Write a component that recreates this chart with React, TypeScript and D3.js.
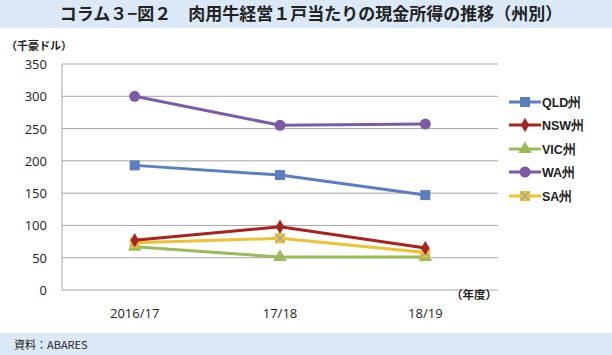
import { useEffect, useRef } from "react";
import * as d3 from "d3";

const years = ["2016/17", "17/18", "18/19"];
const yTicks = [0, 50, 100, 150, 200, 250, 300, 350];

const seriesNames = ["QLD州", "NSW州", "VIC州", "WA州", "SA州"];
const qld = [193, 178, 147];
const nsw = [77, 98, 65];
const vic = [67, 51, 51];
const wa = [300, 255, 257];
const sa = [73, 80, 58];

const colors = ["#5B7EC2", "#A8231F", "#9BBB59", "#7B5BA5", "#F0C233"];
const markers = ["square", "diamond", "triangle", "circle", "xsquare"];

const FONT = "'Noto Sans CJK JP', 'Noto Sans', sans-serif";

function drawMarker(g: any, kind: string, x: number, y: number, color: string) {
  if (kind === "square") {
    g.append("rect").attr("x", x - 5).attr("y", y - 5).attr("width", 10).attr("height", 10).attr("fill", color);
  } else if (kind === "diamond") {
    g.append("path").attr("d", d3.symbol(d3.symbolDiamond, 60)()).attr("transform", `translate(${x},${y})`).attr("fill", color);
  } else if (kind === "triangle") {
    g.append("path").attr("d", d3.symbol(d3.symbolTriangle, 80)()).attr("transform", `translate(${x},${y})`).attr("fill", color);
  } else if (kind === "circle") {
    g.append("circle").attr("cx", x).attr("cy", y).attr("r", 5.5).attr("fill", color);
  } else {
    g.append("rect").attr("x", x - 5).attr("y", y - 5).attr("width", 10).attr("height", 10).attr("fill", color);
    g.append("path").attr("d", `M${x - 4},${y - 4}L${x + 4},${y + 4}M${x - 4},${y + 4}L${x + 4},${y - 4}`)
      .attr("stroke", "#8FA7B8").attr("stroke-width", 1.3);
  }
}

function App() {
  const ref = useRef<SVGSVGElement>(null);

  useEffect(() => {
    const svg = d3.select(ref.current);
    svg.selectAll("*").remove();
    const width = 612;
    const left = 62, right = 498, top = 64, bottom = 290;

    svg.append("rect").attr("width", width).attr("height", 28).attr("fill", "#DBE9F6");
    svg.append("rect").attr("y", 333).attr("width", width).attr("height", 22).attr("fill", "#DBE9F6");

    svg.append("text").attr("x", 311).attr("y", 20).attr("text-anchor", "middle")
      .attr("font-family", FONT).attr("font-size", 17).attr("font-weight", "bold").attr("fill", "#222")
      .text("コラム３−図２　肉用牛経営１戸当たりの現金所得の推移（州別）");
    svg.append("text").attr("x", 14).attr("y", 349).attr("font-family", FONT).attr("font-size", 11).attr("fill", "#222")
      .text("資料：ABARES");

    const x = d3.scalePoint().domain(years).range([left, right]).padding(0.5);
    const y = d3.scaleLinear().domain([0, 350]).range([bottom, top]);

    const g = svg.append("g");
    yTicks.forEach(t => {
      g.append("line").attr("x1", left).attr("x2", right).attr("y1", y(t)).attr("y2", y(t))
        .attr("stroke", "#A6A6A6").attr("stroke-width", 1);
      g.append("text").attr("x", 47).attr("y", y(t) + 5).attr("text-anchor", "end")
        .attr("font-family", "'Open Sans', sans-serif").attr("font-size", 13).attr("fill", "#222").text(t);
    });
    g.append("line").attr("x1", left).attr("x2", left).attr("y1", top).attr("y2", bottom).attr("stroke", "#A6A6A6");

    years.forEach(yr => {
      g.append("text").attr("x", x(yr)!).attr("y", 318).attr("text-anchor", "middle")
        .attr("font-family", "'Open Sans', sans-serif").attr("font-size", 13).attr("fill", "#222").text(yr);
    });

    svg.append("text").attr("x", 6).attr("y", 50).attr("font-family", FONT).attr("font-size", 11).attr("font-weight", "bold").attr("fill", "#222").text("（千豪ドル）");
    svg.append("text").attr("x", 451).attr("y", 299).attr("font-family", FONT).attr("font-size", 11.5).attr("font-weight", "bold").attr("fill", "#222").text("（年度）");

    const allSeries = [qld, nsw, vic, wa, sa];
    const line = d3.line<number>().x((_, i) => x(years[i])!).y(d => y(d));
    const drawOrder = [3, 0, 2, 4, 1];
    drawOrder.forEach(si => {
      const vals = allSeries[si];
      g.append("path").attr("d", line(vals)).attr("fill", "none").attr("stroke", colors[si]).attr("stroke-width", 3);
      vals.forEach((v, i) => drawMarker(g, markers[si], x(years[i])!, y(v), colors[si]));
    });

    const legY = [102, 125, 149, 172, 196];
    seriesNames.forEach((name, i) => {
      const lg = svg.append("g");
      lg.append("line").attr("x1", 509).attr("x2", 541).attr("y1", legY[i]).attr("y2", legY[i])
        .attr("stroke", colors[i]).attr("stroke-width", 3);
      drawMarker(lg, markers[i], 525, legY[i], colors[i]);
      lg.append("text").attr("x", 542).attr("y", legY[i] + 5).attr("font-family", "'Liberation Sans', Arial, sans-serif")
        .attr("font-size", 12.5).attr("font-weight", "bold").attr("fill", "#222").text(name);
    });
  }, []);

  return <svg ref={ref} width={612} height={355} style={{ position: "absolute", left: 0, top: 0 }} />;
}

export default App;
